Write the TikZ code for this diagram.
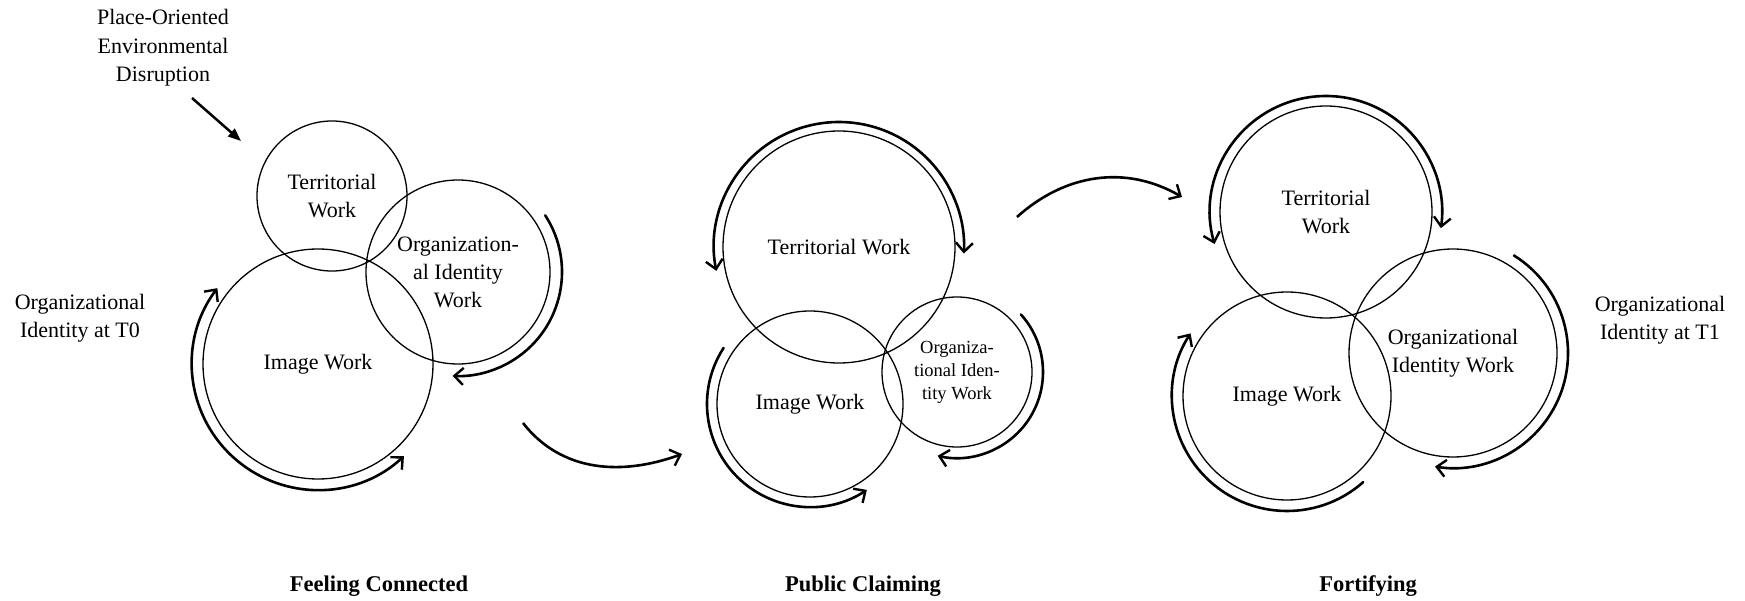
\documentclass[tikz,border=0pt]{standalone}
\usepackage{fontspec}
\setmainfont{Liberation Serif}
\usetikzlibrary{arrows.meta}
\begin{document}
\begin{tikzpicture}[x=1pt,y=1pt,
  work/.style={circle,draw,line width=1.3pt,inner sep=0pt,align=center,
    font=\fontsize{22}{28}\selectfont},
  smallwork/.style={work,font=\fontsize{18.5}{23}\selectfont},
  lbl/.style={align=center,font=\fontsize{22}{28.5}\selectfont},
  phase/.style={font=\fontsize{22.5}{26}\selectfont\bfseries},
  flow/.style={line width=2.6pt,line cap=round},
  tipb/.tip={Straight Barb[length=9pt,width=17pt,line width=2.4pt]},
  conn/.style={line width=2.6pt,-{tipb}}
]
\useasboundingbox (0,0) rectangle (1745,600);

% ---- texts
\node[lbl] (disr) at (163,552) {Place-Oriented\\Environmental\\Disruption};
\node[lbl] (oit0) at (80,282) {Organizational\\Identity at T0};
\node[lbl] (oit1) at (1660,280) {Organizational\\Identity at T1};
\node[phase] (ph1) at (379,14) {Feeling Connected};
\node[phase] (ph2) at (863,14) {Public Claiming};
\node[phase] (ph3) at (1368,14) {Fortifying};

% ---- panel 1
\node[work,minimum size=150pt] (t1) at (332,404) {Territorial\\Work};
\node[work,minimum size=184pt] (o1) at (458,328) {Organization-\\al Identity\\Work};
\node[work,minimum size=230pt] (i1) at (318,236) {Image Work};

% ---- panel 2
\node[work,minimum size=232pt] (t2) at (839,353) {Territorial Work};
\node[work,minimum size=186pt] (i2) at (810,196) {Image Work};
\node[smallwork,minimum size=150pt] (o2) at (957,228) {Organiza-\\tional Iden-\\tity Work};

% ---- panel 3
\node[work,minimum size=212pt] (t3) at (1326,388) {Territorial\\Work};
\node[work,minimum size=208pt] (i3) at (1287,204) {Image Work};
\node[work,minimum size=208pt] (o3) at (1453,247) {Organizational\\Identity Work};

% ---- circular arrows
\draw[flow,{tipb}-{tipb}] (i1.center) ++(143:126) arc[start angle=143,end angle=313,radius=126];
\draw[flow,-{tipb}] (o1.center) ++(33:104) arc[start angle=33,end angle=-93,radius=104];

\draw[flow,{tipb}-{tipb}] (t2.center) ++(191:125) arc[start angle=191,end angle=-3,radius=125];
\draw[flow,-{tipb}] (i2.center) ++(147:103) arc[start angle=147,end angle=303.5,radius=103];
\draw[flow,-{tipb}] (o2.center) ++(42:86) arc[start angle=42,end angle=-103,radius=86];

\draw[flow,{tipb}-{tipb}] (t3.center) ++(196:116) arc[start angle=196,end angle=-8,radius=116];
\draw[flow,-{tipb}] (i3.center) ++(311.5:115) arc[start angle=311.5,end angle=147,radius=115];
\draw[flow,-{tipb}] (o3.center) ++(58:115) arc[start angle=58,end angle=-99,radius=115];

% ---- connectors
\coordinate (pa) at (192,502);
\coordinate (pb) at (241,459);
\draw[line width=2.5pt,-{Triangle[length=13pt,width=10pt]}] (pa) -- (pb);

\coordinate (c1s) at (523,177);
\coordinate (c1e) at (682,146);
\draw[conn] (c1s) to[out=-52,in=200] (c1e);

\coordinate (c2s) at (1017,383);
\coordinate (c2e) at (1182,403);
\draw[conn] (c2s) to[out=42,in=150] (c2e);
\end{tikzpicture}
\end{document}
